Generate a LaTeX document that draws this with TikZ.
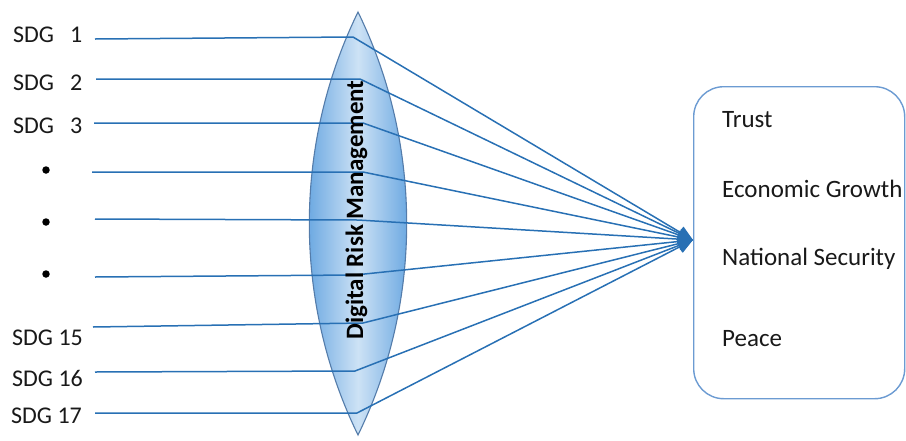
\documentclass[tikz,border=0pt]{standalone}
\usepackage{fontspec}
\setmainfont{Carlito}
\usetikzlibrary{arrows.meta}
\definecolor{lineblue}{RGB}{40,112,180}
\definecolor{lensedge}{RGB}{84,124,170}
\definecolor{lensdark}{RGB}{80,152,220}
\definecolor{lenslight}{RGB}{205,226,245}
\definecolor{boxblue}{RGB}{108,155,210}
\definecolor{txt}{RGB}{25,25,25}
\tikzset{
  conn/.style={draw=lineblue, line width=1.5pt, -{Triangle[length=15pt,width=13pt]}, line join=round},
  lbl/.style={font=\fontsize{24}{28}\selectfont, text=txt, inner sep=0pt, anchor=base west},
  olbl/.style={font=\fontsize{25}{29}\selectfont, text=txt, inner sep=0pt, anchor=base west},
  dotst/.style={circle, fill=black, inner sep=0pt, minimum size=7.5pt},
  outbox/.style={draw=boxblue, line width=1.4pt, rounded corners=30pt, inner sep=0pt, anchor=north west, minimum width=211pt, minimum height=312pt},
  lenstext/.style={font=\bfseries\fontsize{25}{29}\selectfont, text=black, inner sep=0pt, rotate=90, anchor=base}
}
\begin{document}
\begin{tikzpicture}[x=1pt,y=-1pt]
\useasboundingbox (0,0) rectangle (906,440);
% lens
\path[draw=lensedge, line width=1.1pt, left color=lensdark, right color=lensdark, middle color=lenslight]
  (358,12) .. controls (293.1,145) and (293.1,302) .. (358,435)
  .. controls (422.9,302) and (422.9,145) .. (358,12) -- cycle;
% output box
\node[outbox] (box) at (693,86) {};
\node[olbl] (t1) at (722,127) {Trust};
\node[olbl] (t2) at (722,197) {Economic Growth};
\node[olbl] (t3) at (722,265) {National Security};
\node[olbl] (t4) at (722,346) {Peace};
% labels
\node[lbl] (l1) at (13,42) {SDG\hspace{16pt}1};
\node[lbl] (l2) at (13,90) {SDG\hspace{16pt}2};
\node[lbl] (l3) at (13,133) {SDG\hspace{16pt}3};
\node[dotst] (d1) at (46,170) {};
\node[dotst] (d2) at (46,222) {};
\node[dotst] (d3) at (46,274) {};
\node[lbl] (l15) at (12,345) {SDG 15};
\node[lbl] (l16) at (12,386) {SDG 16};
\node[lbl] (l17) at (11,423) {SDG 17};
% coordinates
\coordinate (tip) at (693,240);
\coordinate (s1) at (95,39);  \coordinate (b1) at (353,37);
\coordinate (s2) at (96,79);  \coordinate (b2) at (360,79);
\coordinate (s3) at (94,123); \coordinate (b3) at (363,123);
\coordinate (s4) at (92,172); \coordinate (b4) at (363,172);
\coordinate (s5) at (95,219); \coordinate (b5) at (358,220);
\coordinate (s6) at (95,277); \coordinate (b6) at (355,275);
\coordinate (s7) at (93,327); \coordinate (b7) at (363,323);
\coordinate (s8) at (95,372); \coordinate (b8) at (355,371);
\coordinate (s9) at (95,413); \coordinate (b9) at (357,413);
\foreach \i in {1,...,9} {
  \draw[conn] (s\i) -- (b\i) -- (tip);
}
% lens text
\node[lenstext] (lt) at (363,210) {Digital Risk Management};
\end{tikzpicture}
\end{document}
